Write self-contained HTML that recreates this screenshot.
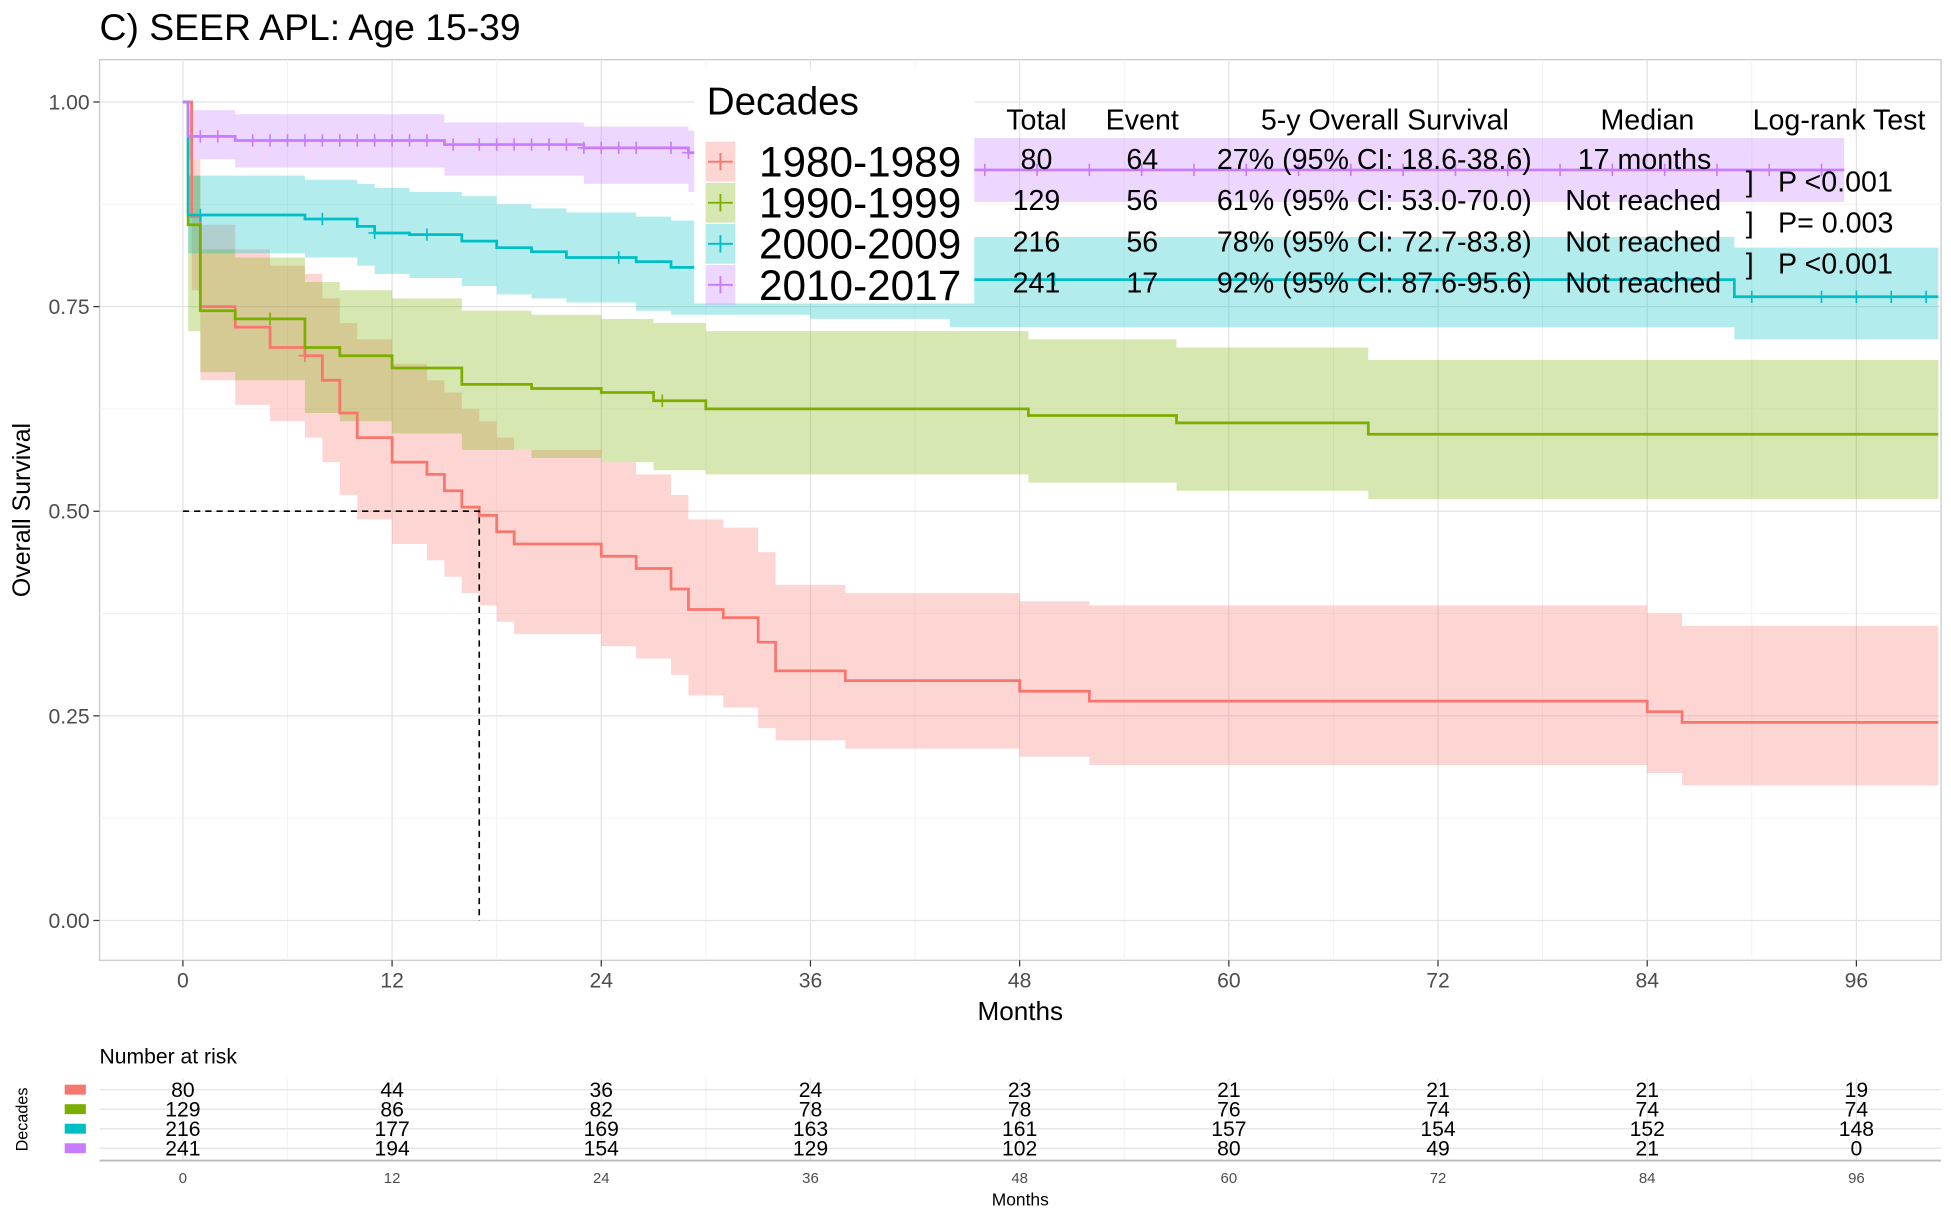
<!DOCTYPE html>
<html><head><meta charset="utf-8">
<style>
html,body{margin:0;padding:0;background:#fff;}
svg{display:block;}
text{font-family:"Liberation Sans Narrow","Liberation Sans",sans-serif;}
.ax{font-family:"Liberation Sans",sans-serif;}
</style></head>
<body>
<svg id="chart" width="1951" height="1219" viewBox="0 0 1568 980" preserveAspectRatio="none" xmlns="http://www.w3.org/2000/svg">
  <text x="80" y="32" font-size="30" class="ax" fill="#000" style="font-family:'Liberation Sans',sans-serif">C) SEER APL: Age 15-39</text>
  <rect x="80" y="48" width="1480" height="724" fill="#fff" stroke="#c8c8c8" stroke-width="1"/>
  <g id="grid"></g>
  <g id="bands"></g>
  <g id="lines"></g>
  <g id="median"></g>
  <g id="axes"></g>
  <g id="legend"></g>
  <g id="stats"></g>
  <g id="risk"></g>
</svg>
<script>
// ---- data ----
const seriesNames = ["1980-1989","1990-1999","2000-2009","2010-2017"];
const seriesColors = ["#F8766D","#7CAE00","#00BFC4","#C77CFF"];
const redTimes = [0,0.5,1,3,5,7,8,9,10,12,14,15,16,17,18,19,24,26,28,29,31,33,34,38,48,52,84,86];
const redSurv  = [1,0.86,0.75,0.725,0.70,0.69,0.66,0.62,0.59,0.56,0.545,0.525,0.505,0.495,0.475,0.46,0.445,0.43,0.405,0.38,0.37,0.34,0.305,0.293,0.28,0.268,0.255,0.242];
const redUpper = [1,0.93,0.85,0.82,0.80,0.79,0.76,0.73,0.71,0.68,0.66,0.645,0.625,0.61,0.59,0.575,0.56,0.545,0.52,0.49,0.48,0.45,0.41,0.40,0.39,0.385,0.375,0.36];
const redLower = [1,0.77,0.66,0.63,0.61,0.59,0.56,0.52,0.49,0.46,0.44,0.42,0.40,0.385,0.365,0.35,0.335,0.32,0.30,0.275,0.26,0.235,0.22,0.21,0.20,0.19,0.18,0.165];
const redCensor = [7];
const greenTimes = [0,0.3,1,3,7,9,12,16,20,24,27,30,48.5,57,68];
const greenSurv  = [1,0.85,0.745,0.735,0.70,0.69,0.675,0.655,0.65,0.645,0.635,0.625,0.617,0.608,0.594];
const greenUpper = [1,0.91,0.82,0.81,0.78,0.77,0.76,0.745,0.74,0.735,0.73,0.72,0.71,0.70,0.685];
const greenLower = [1,0.72,0.67,0.66,0.62,0.61,0.595,0.575,0.565,0.56,0.55,0.545,0.535,0.525,0.515];
const greenCensor = [5,27.5];
const tealTimes = [0,0.3,7,10,11,13,16,18,20,22,26,28,36,44,89];
const tealSurv  = [1,0.862,0.857,0.848,0.840,0.838,0.830,0.822,0.817,0.810,0.805,0.798,0.79,0.783,0.762];
const tealUpper = [1,0.91,0.905,0.90,0.895,0.89,0.885,0.875,0.87,0.865,0.86,0.855,0.845,0.835,0.822];
const tealLower = [1,0.815,0.81,0.80,0.79,0.785,0.775,0.765,0.76,0.755,0.745,0.74,0.735,0.725,0.71];
const tealCensor = [1,8,11,14,25,45,50,90,94,96,98,100];
const purpleTimes = [0,0.3,3,15,23,29,35];
const purpleSurv  = [1,0.958,0.953,0.948,0.944,0.938,0.917];
const purpleUpper = [1,0.99,0.985,0.975,0.97,0.965,0.956];
const purpleLower = [1,0.93,0.92,0.91,0.90,0.89,0.878];
const purpleCensor = [1,2,4,5,6,7,8,9,10,11,12,13,14,15.5,17,18,19,20,21,22,23,24,25,26,28,29,37,40,43,46,49,52,55,58,61,64,67,70,73,76,79,82,85,88,91,94];
const curveEnds = [100.7,100.7,100.7,95.3];
const yTicks = [0,0.25,0.5,0.75,1.0];
const yTickLabels = ["0.00","0.25","0.50","0.75","1.00"];
const xTicks = [0,12,24,36,48,60,72,84,96];
const medianTime = 17;
const statTotal = ["80","129","216","241"];
const statEvent = ["64","56","56","17"];
const statOS = ["27% (95% CI: 18.6-38.6)","61% (95% CI: 53.0-70.0)","78% (95% CI: 72.7-83.8)","92% (95% CI: 87.6-95.6)"];
const statMedian = ["17 months","Not reached","Not reached","Not reached"];
const logRank = ["P <0.001","P= 0.003","P <0.001"];
const riskRed = [80,44,36,24,23,21,21,21,19];
const riskGreen = [129,86,82,78,78,76,74,74,74];
const riskTeal = [216,177,169,163,161,157,154,152,148];
const riskPurple = [241,194,154,129,102,80,49,21,0];

// ---- scales ----
const X0=147, XPM=14.01, Y0=740, YH=658;
const x = t => X0 + t*XPM;
const y = s => Y0 - s*YH;
const NS="http://www.w3.org/2000/svg";
function mk(tag, attrs, parent){const e=document.createElementNS(NS,tag);for(const k in attrs)e.setAttribute(k,attrs[k]);parent.appendChild(e);return e;}
const G = id => document.getElementById(id);

// grid
const grid=G('grid');
for(let m=6;m<=102;m+=12){ if(x(m)<1560){const l=mk('line',{x1:x(m),x2:x(m),y1:48,y2:772,stroke:'#f2f2f2','stroke-width':0.8},grid);

}}
for(let v=0.125;v<1.1;v+=0.25){const l=mk('line',{x1:80,x2:1560,y1:y(v),y2:y(v),stroke:'#f2f2f2','stroke-width':0.8},grid);

}
xTicks.forEach(m=>{const l=mk('line',{x1:x(m),x2:x(m),y1:48,y2:772,stroke:'#e3e3e3','stroke-width':1},grid);

});
yTicks.forEach(v=>{const l=mk('line',{x1:80,x2:1560,y1:y(v),y2:y(v),stroke:'#e3e3e3','stroke-width':1},grid);

});

// bands & lines
const all=[
 [redTimes,redSurv,redUpper,redLower,redCensor],
 [greenTimes,greenSurv,greenUpper,greenLower,greenCensor],
 [tealTimes,tealSurv,tealUpper,tealLower,tealCensor],
 [purpleTimes,purpleSurv,purpleUpper,purpleLower,purpleCensor]];
function stepPath(ts,vs,end){let d=`M${x(ts[0])},${y(vs[0])}`;for(let i=1;i<ts.length;i++){d+=` H${x(ts[i])} V${y(vs[i])}`;}d+=` H${x(end)}`;return d;}
function bandPath(ts,up,lo,end){let d=`M${x(ts[0])},${y(up[0])}`;for(let i=1;i<ts.length;i++)d+=` H${x(ts[i])} V${y(up[i])}`;d+=` H${x(end)} V${y(lo[lo.length-1])}`;for(let i=ts.length-1;i>=1;i--)d+=` H${x(ts[i])} V${y(lo[i-1])}`;d+=` H${x(ts[0])} Z`;return d;}
function survAt(ts,vs,t){let s=vs[0];for(let i=0;i<ts.length;i++)if(ts[i]<=t)s=vs[i];return s;}
all.forEach((s,i)=>{
  const b=mk('path',{d:bandPath(s[0],s[2],s[3],curveEnds[i]),fill:seriesColors[i],'fill-opacity':0.3},G('bands'));
  
  
});
all.forEach((s,i)=>{
  const p=mk('path',{d:stepPath(s[0],s[1],curveEnds[i]),fill:'none',stroke:seriesColors[i],'stroke-width':2.2},G('lines'));
  
  
  s[4].forEach(t=>{const sv=survAt(s[0],s[1],t);
    const c=mk('path',{d:`M${x(t)},${y(sv)-5}V${y(sv)+5}M${x(t)-5},${y(sv)}H${x(t)+5}`,stroke:seriesColors[i],'stroke-width':1.3},G('lines'));
    
    });
});
// median
const md=mk('path',{d:`M${x(0)},${y(0.5)}H${x(medianTime)}V${y(0)}`,fill:'none',stroke:'#000','stroke-width':1.3,'stroke-dasharray':'5,4'},G('median'));



// axes
const ax=G('axes');
yTicks.forEach((v,i)=>{mk('line',{x1:75,x2:80,y1:y(v),y2:y(v),stroke:'#333'},ax);
 const t=mk('text',{x:72,y:y(v)+6,'text-anchor':'end','font-size':17,fill:'#4d4d4d'},ax);t.textContent=yTickLabels[i];
 
 });
xTicks.forEach(m=>{mk('line',{x1:x(m),x2:x(m),y1:772,y2:777,stroke:'#333'},ax);
 const t=mk('text',{x:x(m),y:794,'text-anchor':'middle','font-size':17,fill:'#4d4d4d'},ax);t.textContent=m;
 
 });
let t=mk('text',{x:820,y:820,'text-anchor':'middle','font-size':21,fill:'#000'},ax);t.textContent='Months';


t=mk('text',{x:0,y:0,'text-anchor':'middle','font-size':20,fill:'#000',transform:'translate(24,410) rotate(-90)',style:"font-family:'Liberation Sans',sans-serif"},ax);t.textContent='Overall Survival';



// legend
const lg=G('legend');
mk('rect',{x:558,y:56,width:225,height:188,fill:'#fff'},lg);
t=mk('text',{x:568,y:92,'font-size':31,fill:'#000'},lg);t.textContent='Decades';


seriesNames.forEach((n,i)=>{const cy=130+i*33;
 const r=mk('rect',{x:567,y:cy-16,width:24,height:32,fill:seriesColors[i],'fill-opacity':0.3},lg);
 
 
 mk('path',{d:`M569,${cy}H589M579,${cy-7}V${cy+7}`,stroke:seriesColors[i],'stroke-width':1.5},lg);
 const tx=mk('text',{x:610,y:cy+12,'font-size':34,fill:'#000'},lg);tx.textContent=n;
 
 });

// stats table
const st=G('stats');
const hdr=[["Total",833],["Event",918],["5-y Overall Survival",1113],["Median",1324],["Log-rank Test",1478]];
hdr.forEach(h=>{const e=mk('text',{x:h[1],y:104,'text-anchor':'middle','font-size':23,fill:'#000'},st);e.textContent=h[0];
 
 });
for(let i=0;i<4;i++){const by=136+i*33;
 let e=mk('text',{x:833,y:by,'text-anchor':'middle','font-size':23,fill:'#000'},st);e.textContent=statTotal[i];
 
 
 e=mk('text',{x:918,y:by,'text-anchor':'middle','font-size':23,fill:'#000'},st);e.textContent=statEvent[i];
 
 
 e=mk('text',{x:978,y:by,'font-size':23,fill:'#000'},st);e.textContent=statOS[i];
 
 
 e=mk('text',{x:i==0?1268:1258,y:by,'font-size':23,fill:'#000'},st);e.textContent=statMedian[i];
 
 }
logRank.forEach((p,i)=>{const by=154+i*33;
 let e=mk('text',{x:1403,y:by,'font-size':23,fill:'#000'},st);e.textContent=']';
 
 
 e=mk('text',{x:1429,y:by,'font-size':23,fill:'#000'},st);e.textContent=p;
 
 });

// risk table
const rk=G('risk');
t=mk('text',{x:80,y:855,'font-size':17,fill:'#000'},rk);t.textContent='Number at risk';


xTicks.forEach(m=>{mk('line',{x1:x(m),x2:x(m),y1:867,y2:933,stroke:'#e6e6e6'},rk);});
[6,18,30,42,54,66,78,90].forEach(m=>{mk('line',{x1:x(m),x2:x(m),y1:867,y2:933,stroke:'#f3f3f3'},rk);});
mk('line',{x1:80,x2:1560,y1:933,y2:933,stroke:'#bbb','stroke-width':1.5},rk);
const riskRows=[riskRed,riskGreen,riskTeal,riskPurple];
riskRows.forEach((row,i)=>{const ry=876+i*15.7;
 mk('line',{x1:80,x2:1560,y1:ry,y2:ry,stroke:'#e3e3e3'},rk);
 const sw=mk('rect',{x:52,y:ry-4,width:17,height:8,fill:seriesColors[i]},rk);
 
 
 row.forEach((v,j)=>{const e=mk('text',{x:x(xTicks[j]),y:ry+6,'text-anchor':'middle','font-size':17,fill:'#000'},rk);e.textContent=v;
  
  });
});
xTicks.forEach(m=>{const e=mk('text',{x:x(m),y:951,'text-anchor':'middle','font-size':12,fill:'#4d4d4d'},rk);e.textContent=m;
 
 });
t=mk('text',{x:820,y:969,'text-anchor':'middle','font-size':14,fill:'#000'},rk);t.textContent='Months';


t=mk('text',{x:0,y:0,'text-anchor':'middle','font-size':13,fill:'#000',transform:'translate(22,900) rotate(-90)',style:"font-family:'Liberation Sans',sans-serif"},rk);t.textContent='Decades';


</script>
</body></html>
